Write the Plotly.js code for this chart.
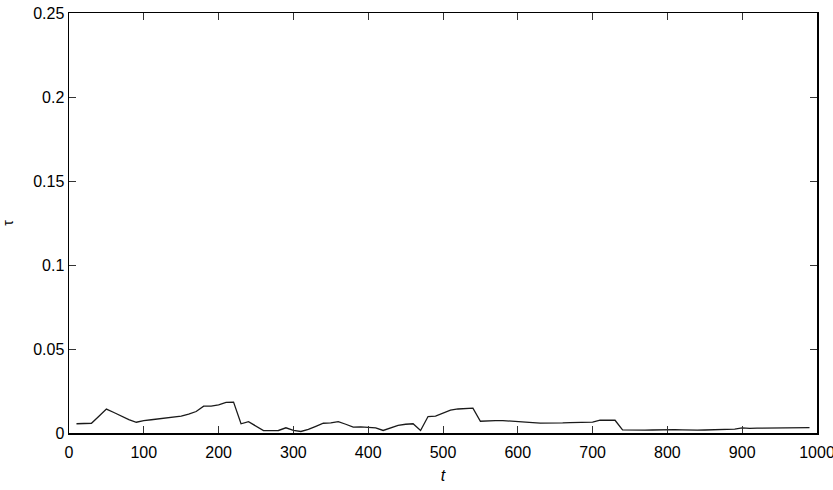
<!DOCTYPE html>
<html>
<head>
<meta charset="utf-8">
<script src="https://cdn.plot.ly/plotly-3.0.1.min.js"></script>
<style>html,body{margin:0;padding:0;background:#fff;}#plot{width:833px;height:490px;}</style>
</head>
<body>
<div id="plot"></div>
<script>
const tValues = [10,20,30,40,50,60,70,80,90,100,110,120,130,140,150,160,170,180,190,200,
  210,220,230,240,250,260,270,280,290,300,310,320,330,340,350,360,370,380,390,400,
  410,420,430,440,450,460,470,480,490,500,510,520,530,540,550,560,570,580,590,600,
  610,620,630,640,650,660,670,680,690,700,710,720,730,740,750,760,770,780,790,800,
  810,820,830,840,850,860,870,880,890,900,910,920,930,940,950,960,970,980,990];
const tauValues = [0.0055,0.0057,0.0058,0.0100,0.0142,0.0122,0.0101,0.0080,0.0064,0.0074,
  0.0079,0.0085,0.0090,0.0095,0.0101,0.0112,0.0128,0.0160,0.0160,0.0168,
  0.0182,0.0184,0.0055,0.0068,0.0040,0.0014,0.0014,0.0015,0.0031,0.0015,
  0.0009,0.0021,0.0040,0.0058,0.0060,0.0068,0.0052,0.0035,0.0036,0.0035,
  0.0031,0.0015,0.0032,0.0046,0.0052,0.0055,0.0015,0.0098,0.0101,0.0117,
  0.0136,0.0143,0.0146,0.0148,0.0070,0.0073,0.0074,0.0074,0.0072,0.0070,
  0.0068,0.0062,0.0059,0.0058,0.0058,0.0060,0.0062,0.0063,0.0062,0.0065,
  0.0077,0.0077,0.0076,0.0019,0.0017,0.0017,0.0017,0.0018,0.0020,0.0021,
  0.0020,0.0019,0.0017,0.0017,0.0018,0.0019,0.0020,0.0021,0.0023,0.0030,
  0.0027,0.0029,0.0029,0.0029,0.0029,0.0029,0.0029,0.0030,0.0032];
const xTicks = [0,100,200,300,400,500,600,700,800,900,1000];
const yTicks = [0,0.05,0.1,0.15,0.2,0.25];

const font = '"Liberation Sans", Arial, sans-serif';
const trace = {
  x: tValues, y: tauValues, type: 'scatter', mode: 'lines',
  line: {color: '#1a1a1a', width: 1.3}, hoverinfo: 'skip'
};
const axisCommon = {
  showgrid: false, zeroline: false, showline: true, linecolor: '#000', linewidth: 1.5,
  mirror: 'ticks', ticks: 'inside', ticklen: 7, tickwidth: 1, tickcolor: '#333',
  ticklabeloverflow: 'allow',
  tickfont: {family: font, size: 16, color: '#000'}
};
const layout = {
  width: 833, height: 490,
  margin: {l: 69, r: 16, t: 13, b: 57, pad: 0},
  paper_bgcolor: '#fff', plot_bgcolor: '#fff',
  showlegend: false,
  xaxis: Object.assign({}, axisCommon, {
    range: [0, 1000], tickvals: xTicks, ticktext: xTicks.map(String),
    ticklabelstandoff: 4,
    title: {text: '<i>t</i>', font: {family: font, size: 16, color: '#000'}, standoff: 10}
  }),
  yaxis: Object.assign({}, axisCommon, {
    range: [0, 0.25], tickvals: yTicks, ticktext: yTicks.map(String),
    title: {text: 'τ', font: {family: font, size: 14, color: '#000'}, standoff: 30}
  })
};
Plotly.newPlot('plot', [trace], layout, {staticPlot: true, displayModeBar: false});
</script>
</body>
</html>
